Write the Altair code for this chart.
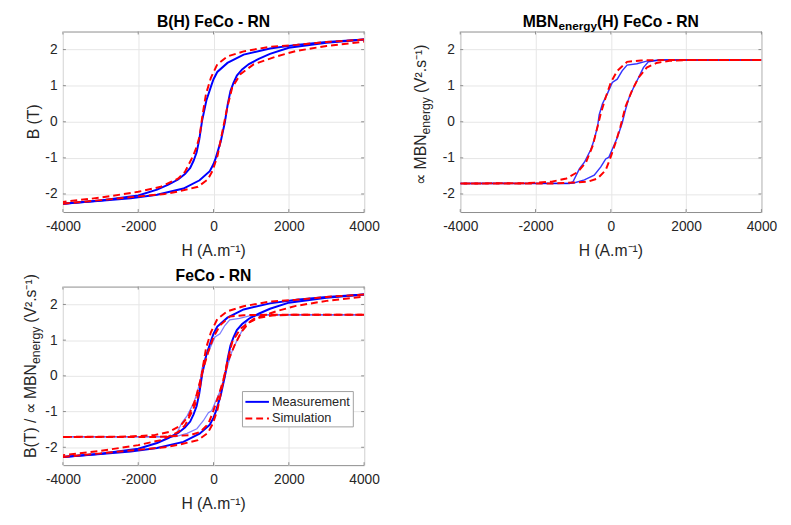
import altair as alt
import pandas as pd

# ---------------- data ----------------
x_ticks = [-4000, -2000, 0, 2000, 4000]
y_ticks = [-2, -1, 0, 1, 2]

# B(H) measurement
bh_meas_desc_H = [4000, 3000, 2200, 1500, 800, 370, 100, 0, -60, -190, -300, -380, -450, -530, -620, -760, -940, -1200, -1500, -2000, -3000, -4000]
bh_meas_desc_B = [2.28, 2.21, 2.13, 2.03, 1.86, 1.63, 1.38, 1.18, 1.0, 0.59, 0.05, -0.5, -0.85, -1.08, -1.28, -1.45, -1.6, -1.74, -1.88, -2.04, -2.18, -2.27]
bh_meas_asc_H = [-4000, -3000, -2200, -1500, -800, -370, -100, 0, 60, 190, 300, 380, 450, 530, 620, 760, 940, 1200, 1500, 2000, 3000, 4000]
bh_meas_asc_B = [-2.27, -2.19, -2.12, -2.02, -1.85, -1.62, -1.37, -1.17, -1.0, -0.55, -0.02, 0.5, 0.85, 1.08, 1.28, 1.45, 1.6, 1.74, 1.88, 2.05, 2.19, 2.28]

# B(H) simulation
bh_sim_desc_H = [4000, 3000, 2200, 1500, 800, 370, 100, -70, -200, -290, -370, -450, -545, -760, -935, -1400, -2000, -3000, -4000]
bh_sim_desc_B = [2.28, 2.21, 2.13, 2.08, 1.95, 1.81, 1.59, 1.22, 0.77, 0.2, -0.4, -0.7, -0.95, -1.39, -1.57, -1.8, -1.94, -2.1, -2.22]
bh_sim_asc_H = [-4000, -3000, -2000, -1300, -935, -414, -154, -23, 107, 193, 280, 367, 497, 714, 1063, 1669, 2190, 3000, 4000]
bh_sim_asc_B = [-2.27, -2.17, -2.07, -2.0, -1.93, -1.8, -1.6, -1.35, -0.94, -0.49, -0.04, 0.41, 0.95, 1.32, 1.59, 1.81, 1.96, 2.1, 2.22]

# MBN energy measurement
mbn_meas_desc_H = [4000, 1300, 953, 692, 431, 300, 170, 39, -91, -222, -310, -352, -441, -527, -702, -833, -1005, -1100, -4000]
mbn_meas_desc_V = [1.71, 1.71, 1.68, 1.61, 1.57, 1.41, 1.18, 1.09, 0.78, 0.5, 0.19, -0.13, -0.49, -0.76, -1.12, -1.3, -1.66, -1.71, -1.71]
mbn_meas_asc_H = [-4000, -1005, -702, -441, -266, -136, -50, 39, 170, 300, 386, 474, 604, 735, 865, 995, 1300, 4000]
mbn_meas_asc_V = [-1.71, -1.7, -1.61, -1.48, -1.25, -1.03, -0.98, -0.76, -0.44, -0.04, 0.32, 0.64, 0.95, 1.22, 1.5, 1.66, 1.71, 1.71]

# MBN energy simulation
mbn_sim_desc_H = [4000, 1500, 800, 431, 170, 0, -136, -266, -352, -483, -658, -875, -1180, -1572, -2270, -4000]
mbn_sim_desc_V = [1.71, 1.71, 1.70, 1.66, 1.41, 1.09, 0.68, 0.23, -0.13, -0.67, -1.12, -1.39, -1.57, -1.66, -1.70, -1.71]
mbn_sim_asc_H = [-4000, -1500, -614, -352, -136, -5, 126, 256, 386, 561, 735, 953, 1214, 1561, 2083, 4000]
mbn_sim_asc_V = [-1.71, -1.71, -1.66, -1.57, -1.34, -0.98, -0.58, -0.13, 0.41, 0.86, 1.22, 1.5, 1.63, 1.69, 1.71, 1.71]

legend_labels = ["Measurement", "Simulation"]

# ---------------- helpers ----------------
FONT = "Liberation Sans"
TXT = "#262626"
W = 307
H_TOP = 184
H_BOT = 182


def loop_df(h1, v1, h2, v2):
    rows = []
    for b, (hs, vs) in enumerate([(h1, v1), (h2, v2)]):
        for i, (h, v) in enumerate(zip(hs, vs)):
            rows.append({"H": h, "V": v, "branch": b, "ord": i})
    return pd.DataFrame(rows)


bh_meas = loop_df(bh_meas_desc_H, bh_meas_desc_B, bh_meas_asc_H, bh_meas_asc_B)
bh_sim = loop_df(bh_sim_desc_H, bh_sim_desc_B, bh_sim_asc_H, bh_sim_asc_B)
mbn_meas = loop_df(mbn_meas_desc_H, mbn_meas_desc_V, mbn_meas_asc_H, mbn_meas_asc_V)
mbn_sim = loop_df(mbn_sim_desc_H, mbn_sim_desc_V, mbn_sim_asc_H, mbn_sim_asc_V)

xaxis = alt.Axis(values=x_ticks, title=None, grid=True, gridColor="#e6e6e6", ticks=False,
                 domain=False, labelFontSize=14, labelColor=TXT, labelPadding=8,
                 labelFlush=False, labelOverlap=False, labelExpr="'' + datum.value", labelFont=FONT)
yaxis = alt.Axis(values=y_ticks, title=None, grid=True, gridColor="#e6e6e6", ticks=False,
                 domain=False, labelFontSize=14, labelColor=TXT, labelPadding=6,
                 labelFlush=False, labelOverlap=False, labelExpr="'' + datum.value", labelFont=FONT)
X = alt.X("H:Q", scale=alt.Scale(domain=[-4000, 4000], nice=False), axis=xaxis)
Y = alt.Y("V:Q", scale=alt.Scale(domain=[-2.5, 2.5], nice=False), axis=yaxis)


def line(df, color, width, dash=None, opacity=1.0):
    kw = dict(color=color, strokeWidth=width, opacity=opacity, clip=True)
    if dash:
        kw["strokeDash"] = dash
    return alt.Chart(df).mark_line(**kw).encode(x=X, y=Y, detail="branch:N", order="ord:Q")


def text(t, x, y, size=16, weight="normal", angle=0, align="center", baseline="alphabetic"):
    return alt.Chart(pd.DataFrame({"t": [t]})).mark_text(
        font=FONT, fontSize=size, fontWeight=weight, angle=angle, align=align,
        baseline=baseline, color="black" if weight == "bold" else TXT
    ).encode(text="t:N", x=alt.value(x), y=alt.value(y))


def ticks(h):
    c = "#8c8c8c"
    xt = pd.DataFrame({"H": x_ticks})
    yt = pd.DataFrame({"V": y_ticks})
    return [
        alt.Chart(xt).mark_rule(color=c).encode(x=X, y=alt.value(h), y2=alt.value(h - 3)),
        alt.Chart(xt).mark_rule(color=c).encode(x=X, y=alt.value(0), y2=alt.value(3)),
        alt.Chart(yt).mark_rule(color=c).encode(y=Y, x=alt.value(0), x2=alt.value(3)),
        alt.Chart(yt).mark_rule(color=c).encode(y=Y, x=alt.value(W - 3), x2=alt.value(W)),
    ]


BLUE = "#0000ff"
RED = "#ff0000"
DASH = [7, 4]
SUB = 12
W_E_REG = 3.057 * 12.5   # width of "energy" regular 12.5px (Arial metrics)
W_E_BOLD = 3.279 * SUB   # width of "energy" bold subscript

# ---------------- panel 1 ----------------
p1 = alt.layer(
    line(bh_meas, BLUE, 2),
    line(bh_sim, RED, 2, DASH),
    *ticks(H_TOP),
    text("B(H) FeCo - RN", W / 2, -5, 16, "bold"),
    text("H (A.m\u207b\u00b9)", W / 2, H_TOP + 45, 16),
    text("B (T)", -24, H_TOP / 2, 16, angle=270),
).properties(width=W, height=H_TOP)

# ---------------- panel 2 ----------------
t_w1 = 2.277 * 16
t_w3 = 6.499 * 16
t_x1 = W / 2 - (t_w1 + W_E_BOLD + t_w3) / 2
j2 = 105
p2 = alt.layer(
    line(mbn_meas, BLUE, 1.5, opacity=0.8),
    line(mbn_sim, RED, 2, DASH),
    *ticks(H_TOP),
    text("MBN", t_x1, -5, 16, "bold", align="left"),
    text("energy", t_x1 + t_w1, -2, SUB, "bold", align="left"),
    text("(H) FeCo - RN", t_x1 + t_w1 + W_E_BOLD, -5, 16, "bold", align="left"),
    text("H (A.m\u207b\u00b9)", W / 2, H_TOP + 45, 16),
    text("\u221d MBN", -35, j2, 16, angle=270, align="right"),
    text("energy", -31, j2, 12.5, angle=270, align="left"),
    text("(V\u00b2.s\u207b\u00b9)", -35, j2 - W_E_REG - 4, 16, angle=270, align="left"),
).properties(width=W, height=H_TOP)

# ---------------- panel 3 ----------------
j3 = 79
leg_df = pd.DataFrame({"t": [0]})
lx0, lx1, ly0, ly1 = 183, 296, 107, 143
legend_layers = [
    alt.Chart(leg_df).mark_rect(fill="white", stroke="#a0a0a0", strokeWidth=1).encode(
        x=alt.value(lx0), x2=alt.value(lx1), y=alt.value(ly0), y2=alt.value(ly1)),
    alt.Chart(leg_df).mark_rule(color=BLUE, strokeWidth=2).encode(
        x=alt.value(186), x2=alt.value(210), y=alt.value(117.5)),
    alt.Chart(leg_df).mark_rule(color=RED, strokeWidth=2, strokeDash=DASH).encode(
        x=alt.value(186), x2=alt.value(210), y=alt.value(134.5)),
    text(legend_labels[0], 213, 117.5, 13, align="left", baseline="middle"),
    text(legend_labels[1], 213, 134.5, 13, align="left", baseline="middle"),
]
p3 = alt.layer(
    line(bh_meas, BLUE, 2),
    line(mbn_meas, BLUE, 1.3, opacity=0.5),
    line(bh_sim, RED, 2, DASH),
    line(mbn_sim, RED, 2, DASH),
    *ticks(H_BOT),
    *legend_layers,
    text("FeCo - RN", W / 2, -6, 16, "bold"),
    text("H (A.m\u207b\u00b9)", W / 2, H_BOT + 45, 16),
    text("B(T) / \u221d MBN", -27, j3, 16, angle=270, align="right"),
    text("energy", -23, j3, 12.5, angle=270, align="left"),
    text("(V\u00b2.s\u207b\u00b9)", -27, j3 - W_E_REG - 4, 16, angle=270, align="left"),
).properties(width=W, height=H_BOT)

chart = alt.concat(
    p1, p2, p3, columns=2, spacing={"row": 76, "column": 98}, bounds="flush"
).properties(
    padding={"left": 15, "top": 0, "right": 5, "bottom": 5}
).configure(font=FONT, background="white").configure_view(stroke="#8c8c8c", strokeWidth=1)

chart.save("out.html", embed_options={"renderer": "svg", "actions": False})
